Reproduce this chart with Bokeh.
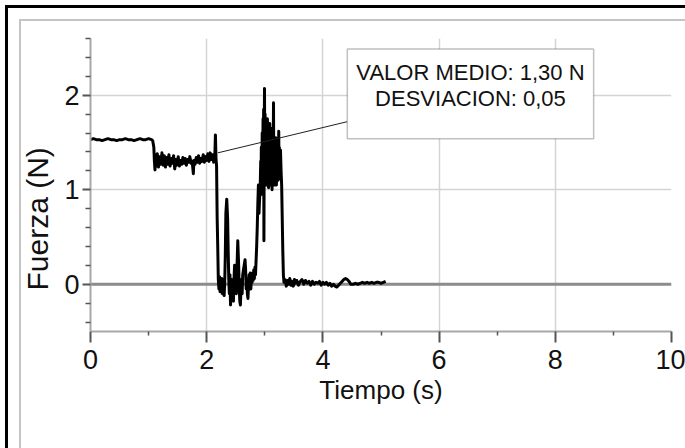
from bokeh.plotting import figure
from bokeh.models import FixedTicker, Span, BoxAnnotation, Label, GlobalInlineStyleSheet
from bokeh.embed import file_html
from bokeh.resources import INLINE

# ---------------- data ----------------
tiempo = [
    0.00, 0.05, 0.10, 0.15, 0.20, 0.25, 0.30, 0.35, 0.40, 0.45, 0.50,
    0.55, 0.60, 0.65, 0.70, 0.75, 0.80, 0.85, 0.90, 0.95, 1.00, 1.05,
    1.07, 1.09, 1.10, 1.11, 1.12,
    1.13, 1.15, 1.17, 1.19, 1.21, 1.23, 1.25, 1.27, 1.29, 1.31, 1.33,
    1.35, 1.37, 1.39, 1.41, 1.43, 1.45, 1.47, 1.49, 1.51, 1.53, 1.55,
    1.57, 1.59, 1.61, 1.63, 1.65, 1.67, 1.69, 1.71, 1.73, 1.75, 1.77,
    1.78, 1.80, 1.82, 1.84, 1.86, 1.88, 1.90, 1.92, 1.94, 1.96, 1.98,
    2.00, 2.02, 2.04, 2.06, 2.08, 2.10, 2.12, 2.14,
    2.15, 2.16, 2.17, 2.18, 2.19, 2.20, 2.21, 2.22, 2.23, 2.24, 2.25,
    2.26, 2.27, 2.28, 2.29, 2.30, 2.31, 2.32, 2.33, 2.345, 2.36, 2.37,
    2.38, 2.39, 2.40, 2.41, 2.42, 2.43, 2.44, 2.45, 2.46, 2.47, 2.48,
    2.50, 2.51, 2.52, 2.535, 2.55, 2.56, 2.57, 2.58, 2.59, 2.60, 2.61,
    2.62, 2.64, 2.66, 2.67, 2.68, 2.69, 2.70, 2.71, 2.72, 2.73, 2.74,
    2.75, 2.76, 2.77, 2.78, 2.79, 2.80, 2.81, 2.82, 2.83, 2.84, 2.85,
    2.86, 2.87, 2.88, 2.89, 2.90, 2.91,
    2.92, 2.93, 2.935, 2.94, 2.95, 2.955, 2.96, 2.97, 2.975, 2.98, 2.985,
    2.99, 2.995, 3.00, 3.005, 3.01, 3.02, 3.025, 3.03, 3.04, 3.045, 3.05,
    3.06, 3.065, 3.07, 3.08, 3.085, 3.09, 3.10, 3.11, 3.12, 3.125, 3.13,
    3.14, 3.15, 3.155, 3.16, 3.17, 3.18, 3.185, 3.19, 3.20, 3.21, 3.215,
    3.22, 3.23, 3.24, 3.245, 3.25, 3.26, 3.27, 3.28, 3.29, 3.30, 3.31,
    3.32, 3.33,
    3.35, 3.37, 3.39, 3.41, 3.43, 3.45, 3.47, 3.49, 3.51, 3.53, 3.55,
    3.58, 3.61, 3.64, 3.67, 3.70, 3.73, 3.76, 3.79, 3.82, 3.85, 3.88,
    3.91, 3.94, 3.97, 4.00, 4.03, 4.06, 4.09, 4.12, 4.15, 4.18, 4.21,
    4.24, 4.27, 4.30, 4.33, 4.36, 4.39, 4.42, 4.45, 4.48, 4.52, 4.56,
    4.60, 4.64, 4.68, 4.72, 4.76, 4.80, 4.84, 4.88, 4.92, 4.96, 5.00,
    5.04, 5.08,
]
fuerza = [
    1.53, 1.54, 1.53, 1.53, 1.52, 1.53, 1.54, 1.53, 1.53, 1.52, 1.53,
    1.53, 1.54, 1.53, 1.53, 1.52, 1.53, 1.54, 1.53, 1.53, 1.54, 1.53,
    1.52, 1.45, 1.30, 1.21, 1.37,
    1.25, 1.38, 1.24, 1.35, 1.27, 1.39, 1.26, 1.36, 1.24, 1.34, 1.27,
    1.37, 1.25, 1.33, 1.28, 1.36, 1.22, 1.32, 1.26, 1.35, 1.25, 1.31,
    1.27, 1.34, 1.28, 1.33, 1.26, 1.32, 1.29, 1.35, 1.28, 1.30, 1.17,
    1.31, 1.27, 1.34, 1.29, 1.36, 1.28, 1.33, 1.30, 1.37, 1.29, 1.35,
    1.31, 1.38, 1.30, 1.39, 1.32, 1.37, 1.29, 1.36,
    1.58, 1.33, 1.25, 0.70, 0.40, 0.05, -0.05, 0.08, -0.08, 0.03, -0.02,
    0.06, -0.10, 0.00, 0.05, -0.12, 0.02, 0.30, 0.75, 0.90, 0.70, 0.35,
    0.05, -0.10, 0.10, -0.22, -0.05, 0.05, -0.08, 0.02, -0.18, 0.05, 0.20,
    0.05, -0.10, 0.15, 0.46, 0.20, -0.05, -0.18, -0.22, -0.05, 0.05, -0.10,
    0.10, 0.18, 0.26, 0.15, -0.05, 0.05, -0.10, -0.15, 0.00, 0.10, 0.05,
    0.12, -0.05, 0.08, 0.02, 0.12, 0.04, 0.15, 0.06, 0.18, 0.10, 0.25,
    0.40, 0.60, 0.85, 1.05, 0.75, 0.90,
    1.00, 1.30, 0.95, 1.45, 1.05, 1.60, 1.10, 1.75, 1.05, 1.85, 0.46,
    1.50, 2.07, 1.10, 1.80, 1.05, 1.70, 1.08, 1.65, 1.05, 1.75, 1.10,
    1.60, 1.02, 1.55, 1.08, 1.70, 1.05, 1.50, 1.10, 1.58, 1.00, 1.65,
    1.06, 1.92, 1.10, 1.55, 1.05, 1.50, 1.12, 1.55, 1.05, 1.48, 1.15,
    1.52, 1.10, 1.62, 1.15, 1.45, 1.12, 1.42, 1.20, 1.05, 0.70, 0.35,
    0.10, 0.02,
    0.05, -0.02, 0.04, 0.00, 0.06, -0.01, 0.03, -0.02, 0.05, 0.01, 0.04,
    -0.01, 0.03, 0.05, 0.00, 0.04, 0.01, 0.03, -0.01, 0.03, 0.00, 0.02,
    0.01, 0.03, -0.01, 0.02, 0.00, 0.02, -0.01, 0.01, -0.02, 0.00, -0.02,
    -0.03, -0.01, 0.01, 0.03, 0.05, 0.06, 0.05, 0.03, 0.00, 0.00, 0.01,
    0.00, 0.01, 0.02, 0.01, 0.02, 0.01, 0.02, 0.01, 0.02, 0.02, 0.01,
    0.02, 0.03,
]

x_major = [0, 2, 4, 6, 8, 10]
x_minor = [1, 3, 5, 7, 9]
y_major = [0, 1, 2]
y_minor = [-0.4, -0.2, 0.2, 0.4, 0.6, 0.8, 1.2, 1.4, 1.6, 1.8, 2.2, 2.4, 2.6]
stats_text = ["VALOR MEDIO: 1,30 N", "DESVIACION: 0,05"]
x_label = "Tiempo (s)"
y_label = "Fuerza (N)"

NARROW = "'Liberation Sans Narrow', 'Liberation Sans', Arial, sans-serif"
REGULAR = "'Liberation Sans', Arial, sans-serif"

p = figure(width=685, height=440, x_range=(0, 10), y_range=(-0.5, 2.6),
           output_backend="svg", toolbar_location=None,
           title=y_label, title_location="left",
           min_border_left=90, min_border_right=14,
           min_border_top=38, min_border_bottom=109)

p.background_fill_color = "white"
p.border_fill_color = None
p.outline_line_color = None

# picture-frame lines (black outer, light-grey inner) on the page background,
# only along the top and left edges as in the reference
FRAME_BG = {
    "background-color": "white",
    "background-image": ("linear-gradient(#000,#000), linear-gradient(#000,#000), "
                         "linear-gradient(#c4c4c4,#c4c4c4), linear-gradient(#c4c4c4,#c4c4c4)"),
    "background-position": "5px 5px, 5px 5px, 19px 19px, 19px 19px",
    "background-size": "3px 460px, 700px 3px, 2px 460px, 700px 2px",
    "background-repeat": "no-repeat, no-repeat, no-repeat, no-repeat",
}
page_css = "html { " + " ".join(f"{k}: {v};" for k, v in FRAME_BG.items()) + " overflow: hidden; }"
p.stylesheets = [GlobalInlineStyleSheet(css=page_css)]

# y-axis label drawn as left title (shifted down like the reference)
p.title.align = "left"
p.title.offset = 41
p.title.standoff = 16
p.title.text_font = REGULAR
p.title.text_font_size = "30px"
p.title.text_font_style = "normal"
p.title.text_color = "#111111"

# axes
p.xaxis.ticker = FixedTicker(ticks=x_major, minor_ticks=x_minor)
p.yaxis.ticker = FixedTicker(ticks=y_major, minor_ticks=y_minor)
for ax in (p.xaxis, p.yaxis):
    ax.axis_line_color = "#a8a8a8"
    ax.axis_line_width = 2
    ax.major_tick_line_color = "#555555"
    ax.major_tick_line_width = 2
    ax.minor_tick_line_color = "#555555"
    ax.minor_tick_line_width = 1.5
    ax.major_tick_in = 0
    ax.minor_tick_in = 0
    ax.major_label_text_font = NARROW
    ax.major_label_text_font_size = "27px"
    ax.major_label_text_color = "#111111"

p.xaxis.major_tick_out = 11
p.xaxis.minor_tick_out = 4
p.xaxis.major_label_standoff = 7
p.xaxis.axis_label = x_label
p.xaxis.axis_label_text_font = NARROW
p.xaxis.axis_label_text_font_size = "26px"
p.xaxis.axis_label_text_font_style = "normal"
p.xaxis.axis_label_text_color = "#111111"
p.xaxis.axis_label_standoff = 3

p.yaxis.major_tick_out = 8
p.yaxis.minor_tick_out = 5
p.yaxis.major_label_standoff = 3

# grid
for g in (p.xgrid, p.ygrid):
    g.grid_line_color = "#d4d4d4"
    g.grid_line_width = 1.5

p.add_layout(Span(location=0, dimension="width", line_color="#8c8c8c",
                  line_width=3, level="underlay"))

# force trace
p.line(tiempo, fuerza, line_color="black", line_width=3, line_join="round")

# callout
callout_x = [2.19, 4.42]
callout_y = [1.39, 1.72]
p.line(callout_x, callout_y, line_color="#202020", line_width=1)
p.add_layout(BoxAnnotation(left=4.42, right=8.66, bottom=1.54, top=2.49,
                           fill_color="white", fill_alpha=1.0,
                           line_color="#303030", line_width=1.5))
for txt, yy in zip(stats_text, [2.24, 1.96]):
    p.add_layout(Label(x=6.54, y=yy, text=txt, text_align="center",
                       text_baseline="middle", text_font=NARROW,
                       text_font_size="22px", text_color="#111111"))

open("out.html", "w").write(file_html(p, INLINE))
